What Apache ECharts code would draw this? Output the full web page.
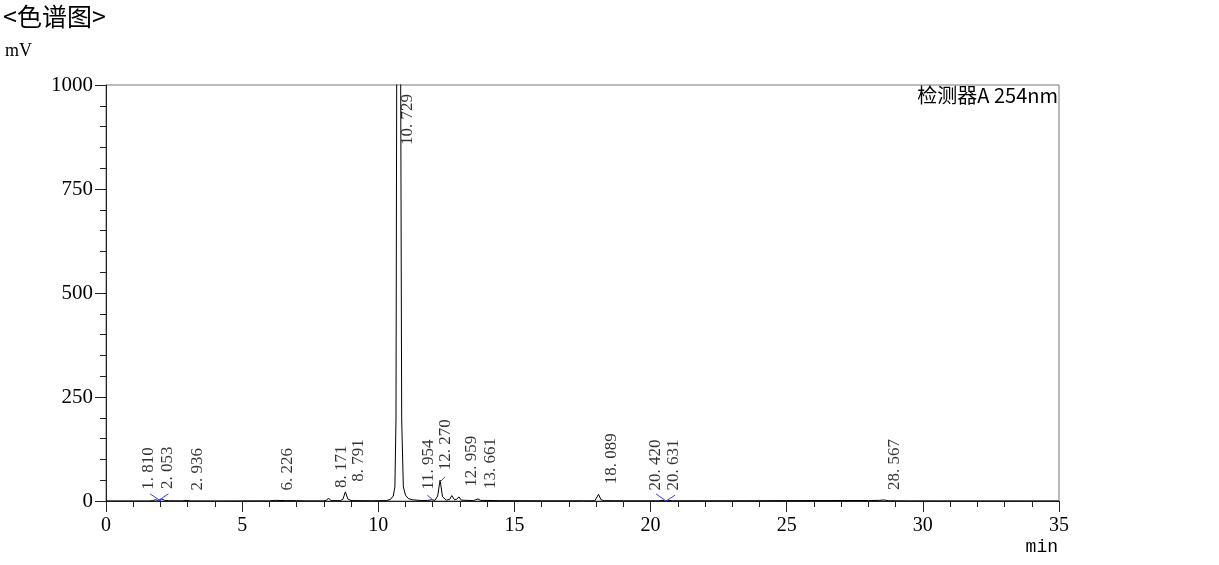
<!DOCTYPE html>
<html>
<head>
<meta charset="utf-8">
<script src="https://cdn.jsdelivr.net/npm/echarts@6/dist/echarts.min.js"></script>
<style>
  html, body { margin: 0; padding: 0; background: #fff; }
  #chart { width: 1219px; height: 565px; }
</style>
</head>
<body>
<div id="chart"></div>
<script>
// chromatogram trace (min, mV)
const traceTime = [
  0.00, 1.60, 1.72, 1.81, 1.93, 2.00, 2.053, 2.15, 2.30, 2.80, 2.936, 3.10, 4.00,
  6.00, 6.10, 6.226, 6.60, 7.00, 7.30, 8.00, 8.10, 8.171, 8.26, 8.60, 8.70, 8.791, 8.88, 9.00,
  9.80, 10.30, 10.45, 10.55, 10.61, 10.65, 10.676, 10.75, 10.823, 10.86, 10.92, 11.00, 11.10,
  11.25, 11.50, 11.80, 11.954, 12.08, 12.18, 12.270, 12.36, 12.50, 12.62, 12.70, 12.80, 12.88,
  12.959, 13.05, 13.50, 13.58, 13.661, 13.76, 14.50, 16.00, 17.95, 18.02, 18.089, 18.18, 18.30,
  19.00, 20.30, 20.420, 20.52, 20.631, 20.80, 23.50, 25.00, 28.00, 28.40, 28.567, 28.75, 29.50, 35.00
];
const traceSignal = [
  0, 0, 1, 3, 1, 3, 5, 1.5, 0.5, 0.3, 1.5, 0.2, 0,
  0.3, 1, 1.5, 1, 0.8, 0.3, 0.2, 2, 7, 1, 0.8, 4, 22, 5, 1,
  0.5, 1, 4, 12, 34, 195, 1000, 1750, 1000, 195, 34, 14, 6,
  3, 1.5, 1, 3, 1.5, 12, 50, 10, 2, 4, 13, 3, 4,
  10, 2, 1, 3, 5, 1.5, 0.8, 0.5, 0.5, 5, 16, 3, 0.8,
  0.5, 0.5, 1.5, 0.8, 1.5, 0.5, 0.6, 1, 1.2, 1.5, 2.5, 0.5, 0.2, 0
];

// labelled peaks
const peakTimes = [1.810, 2.053, 2.936, 6.226, 8.171, 8.791, 10.729, 11.954, 12.270, 12.959, 13.661, 18.089, 20.420, 20.631, 28.567];
const peakHeights = [3, 5, 1.5, 1.5, 7, 22, 1750, 3, 50, 10, 5, 16, 1.5, 1.5, 2.5];

// integration event marks (start / end of each short segment)
const markStartTime = [1.62, 1.86, 11.80, 12.27, 20.20, 20.57];
const markStartSignal = [17, -1.5, 14, 46, 17, 0];
const markEndTime = [2.05, 2.29, 11.98, 12.45, 20.57, 20.90];
const markEndSignal = [-1.5, 17, 4, 58, 0, 14];

const yTicks = [0, 250, 500, 750, 1000];
const xTicks = [0, 5, 10, 15, 20, 25, 30, 35];

// horizontal pixel nudge of each peak label (style only)
const labelShift = [-7, 6, 12, 12, 13, 13, 9, -3, 5, 13, 13, 13, -6, 6, 11];

const serif = 'Liberation Serif';
const cjk = 'Noto Sans CJK SC';

const chart = echarts.init(document.getElementById('chart'));

const yMax = yTicks[yTicks.length - 1];
// label offset is applied in the rotated (90deg) frame: local x = screen up, local y = screen right
const peakData = peakTimes.map((t, i) => {
  const clipped = peakHeights[i] >= yMax;
  return {
    value: [t, Math.min(peakHeights[i], yMax)],
    label: {
      align: clipped ? 'right' : 'left',
      offset: clipped ? [-9, labelShift[i]] : [10, labelShift[i]]
    }
  };
});

const option = {
  animation: false,
  backgroundColor: '#fff',
  title: [
    { text: '<色谱图>', left: 3, top: 4, padding: 0,
      textStyle: { fontFamily: cjk, fontSize: 25, fontWeight: 'normal', color: '#000' } },
    { text: 'mV', left: 5, top: 42, padding: 0,
      textStyle: { fontFamily: serif, fontSize: 18, fontWeight: 'normal', color: '#000' } },
    { text: '检测器A 254nm', right: 161, top: 85, padding: 0,
      textStyle: { fontFamily: cjk, fontSize: 20, fontWeight: 'normal', color: '#000' } },
    { text: 'min', right: 161, top: 538, padding: 0,
      textStyle: { fontFamily: 'Liberation Mono', fontSize: 18, fontWeight: 'normal', color: '#000' } }
  ],
  grid: {
    left: 106, right: 160, top: 85, bottom: 64,
    show: true, borderColor: '#777', borderWidth: 1, backgroundColor: 'transparent'
  },
  xAxis: {
    type: 'value',
    min: xTicks[0], max: xTicks[xTicks.length - 1], interval: 5,
    axisLine: { show: true, onZero: false, lineStyle: { color: '#222', width: 1 } },
    axisTick: { show: true, inside: false, length: 11, lineStyle: { color: '#222' } },
    minorTick: { show: true, splitNumber: 5, length: 6, lineStyle: { color: '#222' } },
    axisLabel: { fontFamily: serif, fontSize: 20, color: '#000', margin: 15 },
    splitLine: { show: false }
  },
  yAxis: {
    type: 'value',
    min: yTicks[0], max: yMax, interval: 250,
    axisLine: { show: true, onZero: false, lineStyle: { color: '#222', width: 1 } },
    axisTick: { show: true, inside: false, length: 11, lineStyle: { color: '#222' } },
    minorTick: { show: true, splitNumber: 5, length: 6, lineStyle: { color: '#222' } },
    axisLabel: { fontFamily: serif, fontSize: 21, color: '#000', margin: 13, formatter: v => String(v) },
    splitLine: { show: false }
  },
  series: [
    {
      type: 'line',
      data: traceTime.map((t, i) => [t, traceSignal[i]]),
      showSymbol: false,
      symbol: 'none',
      clip: true,
      lineStyle: { color: '#000', width: 1 },
      emphasis: { disabled: true },
      z: 3
    },
    {
      type: 'lines',
      coordinateSystem: 'cartesian2d',
      data: markStartTime.map((t, i) => ({
        coords: [[t, markStartSignal[i]], [markEndTime[i], markEndSignal[i]]]
      })),
      lineStyle: { color: '#3b3bff', width: 1, opacity: 1 },
      silent: true,
      z: 4
    },
    {
      type: 'scatter',
      data: peakData,
      symbolSize: 1,
      itemStyle: { color: 'transparent' },
      silent: true,
      label: {
        show: true,
        position: 'inside',
        rotate: 90,
        verticalAlign: 'middle',
        fontFamily: serif,
        fontSize: 17,
        color: '#000',
        formatter: p => p.value[0].toFixed(3).replace('.', '. ')
      },
      emphasis: { disabled: true },
      z: 5
    }
  ]
};

chart.setOption(option);
</script>
</body>
</html>
